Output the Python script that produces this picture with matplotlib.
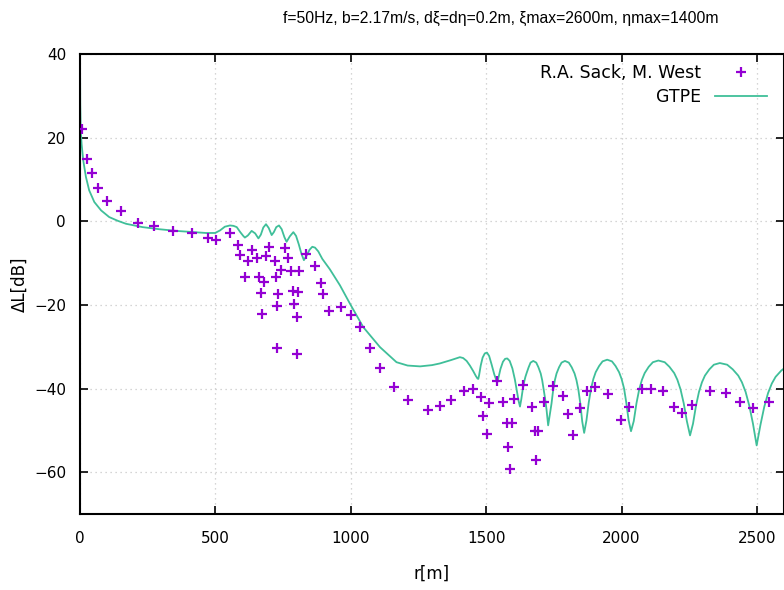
import matplotlib
matplotlib.use("Agg")
import matplotlib.pyplot as plt

# measured points (R.A. Sack, M. West)
sack_r = [8, 27, 43, 68, 101, 150, 215, 274, 345, 415, 472, 501, 554, 583, 591,
          609, 619, 636, 655, 661, 667, 671, 681, 686, 699, 720, 724, 726, 729,
          732, 742, 757, 769, 778, 788, 790, 800, 802, 804, 809, 835, 868, 889,
          899, 921, 964, 1001, 1034, 1071, 1108, 1161, 1210, 1286, 1329, 1372,
          1418, 1450, 1481, 1487, 1504, 1509, 1539, 1563, 1576, 1582, 1588, 1596,
          1604, 1635, 1668, 1680, 1684, 1692, 1713, 1746, 1785, 1803, 1822, 1846,
          1873, 1902, 1951, 1997, 2028, 2074, 2107, 2152, 2193, 2222, 2259, 2326,
          2385, 2437, 2486, 2545]
sack_db = [22, 14.8, 11.6, 8, 4.8, 2.4, -0.5, -1.1, -2.3, -2.9, -4.1, -4.5, -2.8,
           -5.6, -8, -13.3, -9.6, -6.8, -8.8, -13.3, -17.1, -22.1, -14.5, -8.4,
           -6.1, -9.6, -13.3, -20.3, -30.2, -17.5, -11.7, -6.5, -8.8, -12, -16.7,
           -19.9, -31.8, -23, -16.9, -12, -7.9, -10.8, -14.8, -17.5, -21.5, -20.5,
           -22.5, -25.4, -30.2, -35.1, -39.6, -42.8, -45.2, -44.2, -42.8, -40.7,
           -40, -42, -46.6, -50.8, -43.5, -38.2, -43.1, -48.3, -54, -59.2, -48.3,
           -42.6, -39.2, -44.3, -50.2, -57, -50.2, -43.1, -39.4, -41.9, -46, -51,
           -44.6, -40.6, -39.6, -41.2, -47.6, -44.3, -40, -40, -40.7, -44.3, -45.8,
           -44, -40.7, -41, -43.1, -44.7, -43.1]

# GTPE curve
gtpe_r = [0, 1, 3, 6, 12, 22, 34, 53, 78, 108, 140, 170, 231, 293, 355, 420, 465,
          499, 517, 535, 554, 567, 579, 592, 603, 609, 620, 634, 647, 659, 668,
          677, 687, 697, 708, 716, 725, 735, 745, 755, 763, 775, 788, 798, 808,
          818, 827, 837, 848, 858, 868, 880, 895, 923, 960, 997, 1046, 1108, 1169,
          1210, 1256, 1300, 1329, 1370,
          1403, 1415, 1428, 1440, 1452, 1462, 1468, 1471, 1474, 1480, 1487, 1495,
          1503, 1511, 1520, 1530, 1537, 1542, 1546, 1553, 1562, 1570, 1578, 1587,
          1597, 1606, 1614, 1620,
          1625, 1630, 1635, 1640, 1645, 1650, 1657, 1664, 1674, 1685, 1693, 1701.5,
          1707, 1712.5, 1718, 1723,
          1729, 1741.4, 1747.6, 1753.8, 1760, 1769.3, 1778.6, 1791, 1805.2, 1815.9,
          1826.5, 1833.6, 1840.7, 1847.8, 1854.9,
          1862, 1870.5, 1879, 1887.5, 1896, 1904.5, 1917.3, 1930, 1947, 1964.6,
          1977.8, 1991, 2000.2, 2009.4, 2017.4, 2026.2,
          2035, 2045.1, 2055.2, 2065.3, 2075.4, 2085.5, 2100.4, 2115.8, 2136, 2159.4,
          2176.9, 2194.5, 2206.2, 2217.9, 2229.6, 2241.3,
          2253, 2264, 2275, 2286, 2297, 2308, 2324.5, 2341, 2363, 2390.2, 2410.6,
          2431, 2444.6, 2458.2, 2471.8, 2485.4,
          2499, 2513, 2527, 2541, 2555, 2569, 2590, 2600]
gtpe_db = [42, 28, 21.5, 18.5, 14.6, 10.6, 7.4, 4.6, 2.6, 1.0, 0.1, -0.6, -1.4,
           -1.9, -2.3, -2.6, -2.8, -2.8, -2.2, -1.3, -1.0, -1.1, -1.4, -2.6, -3.5,
           -3.9, -3.4, -2.3, -2.9, -4.1, -3.2, -1.5, -0.7, -1.6, -3.3, -2.6, -1.4,
           -1.0, -1.9, -3.8, -4.9, -3.6, -2.6, -3.5, -5.5, -7.8, -9.3, -8.2, -6.8,
           -6.1, -6.3, -7.2, -9.0, -11.5, -15.3, -19.7, -25.3, -30.1, -33.7, -34.5,
           -34.7, -34.4, -34.0, -33.2,
           -32.5, -32.7, -33.4, -34.5, -35.8, -37.0, -37.6, -37.7, -36.8, -34.5,
           -32.6, -31.6, -31.4, -32.2, -34.2, -36.6, -37.9, -38.4, -37.3, -35.3,
           -33.6, -32.9, -32.8, -33.4, -35.2, -37.8, -40.8, -43.0,
           -44.3, -42.5, -40.3, -38.5, -37.2, -36.2, -34.9, -33.8, -33.4, -33.8,
           -34.9, -36.4, -38.0, -40.3, -42.5, -45.0,
           -48.8, -43.6, -40.3, -38.0, -36.4, -34.9, -33.8, -33.4, -33.8, -34.9,
           -36.4, -38.0, -40.3, -43.6, -47.9,
           -50.6, -47.6, -43.3, -40.0, -37.7, -36.1, -34.6, -33.5, -33.1, -33.5,
           -34.6, -36.1, -37.7, -40.0, -43.3, -47.6,
           -50.2, -47.8, -43.5, -40.2, -37.9, -36.3, -34.8, -33.7, -33.3, -33.7,
           -34.8, -36.3, -37.9, -40.2, -43.5, -47.8,
           -51.2, -48.4, -44.1, -40.8, -38.5, -36.9, -35.4, -34.3, -33.9, -34.3,
           -35.4, -36.9, -38.5, -40.8, -44.1, -48.4,
           -53.6, -48.7, -44.4, -41.1, -38.8, -37.2, -35.7, -35.2]

fig = plt.figure(figsize=(7.84, 5.90), dpi=100)
ax = fig.add_axes([0.102, 0.1288, 0.898, 0.7797])

ax.plot(sack_r, sack_db, linestyle="none", marker="+", markersize=7,
        markeredgewidth=1.6, color="#9400d3", label="R.A. Sack, M. West", zorder=3)
ax.plot(gtpe_r, gtpe_db, color="#3fbf99", linewidth=1.3, label="GTPE", zorder=2)

ax.set_xlim(0, 2600)
ax.set_ylim(-70, 40)
ax.set_xticks([0, 500, 1000, 1500, 2000, 2500])
ax.set_yticks([-60, -40, -20, 0, 20, 40])
ax.tick_params(direction="in", length=6, width=1.2, top=True, right=True,
               labelsize=11, pad=10, colors="black")
ax.tick_params(axis="x", pad=12)
ax.grid(True, linestyle=(0, (1, 3)), color="#c8c8c8", linewidth=0.9)
for sp in ax.spines.values():
    sp.set_linewidth(1.5)

ax.set_xlabel("r[m]", fontsize=12, labelpad=14)
ax.set_ylabel("ΔL[dB]", fontsize=12, labelpad=4)

fig.text(0.639, 0.969, "f=50Hz, b=2.17m/s, dξ=dη=0.2m, ξmax=2600m, ηmax=1400m",
         ha="center", va="center", fontsize=11.3,
         family=["Liberation Sans", "DejaVu Sans"])

ax.legend(loc="upper right", frameon=False, markerfirst=False, fontsize=12.5,
          handlelength=3.0, borderaxespad=0.6, labelspacing=0.3,
          bbox_to_anchor=(1.0, 1.015))

fig.savefig("out.png", dpi=100)
